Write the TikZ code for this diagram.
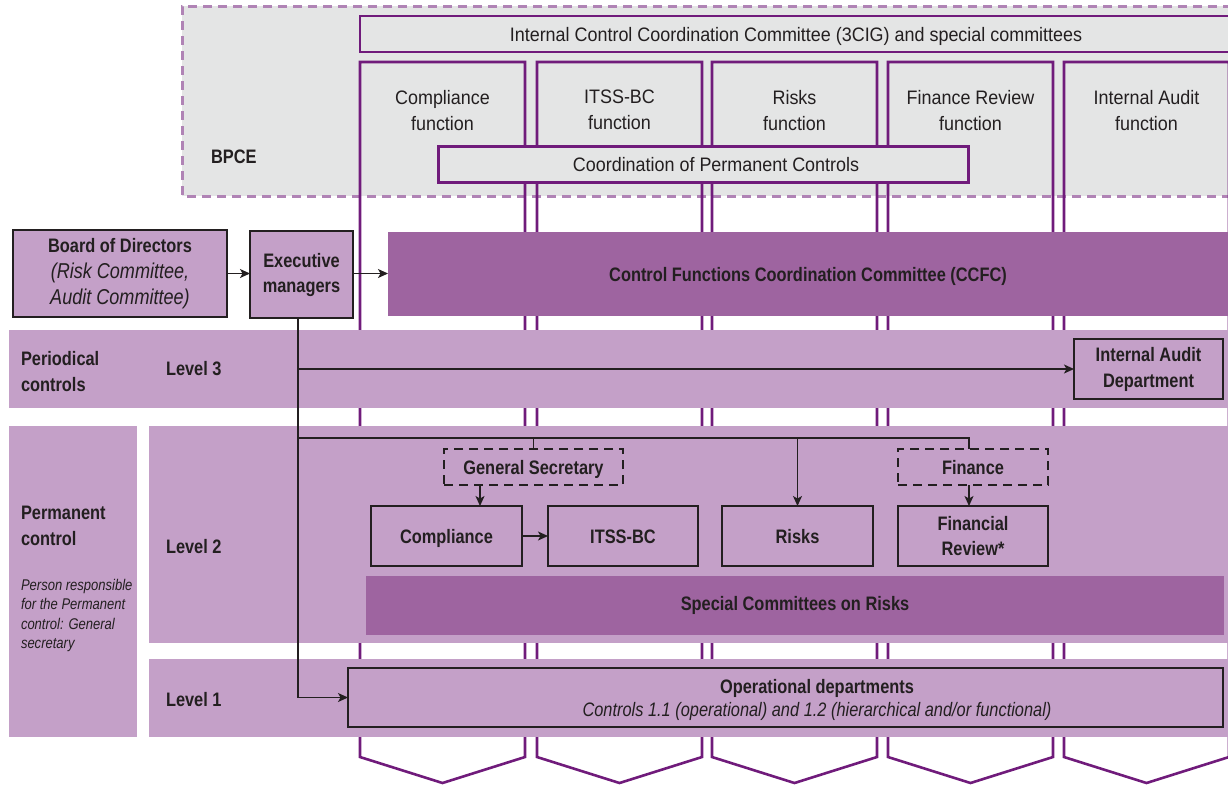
\documentclass[tikz,border=0pt]{standalone}
\usepackage{fontspec}
\setmainfont{Liberation Sans}[FakeStretch=0.92,
  BoldFeatures={FakeStretch=0.84},
  ItalicFeatures={FakeStretch=0.84},
  BoldItalicFeatures={FakeStretch=0.84}]
\usetikzlibrary{arrows.meta}
\definecolor{ink}{HTML}{231F20}
\definecolor{plum}{HTML}{701B7B}
\definecolor{lilac}{HTML}{C4A0C8}
\definecolor{mauve}{HTML}{9E64A0}
\definecolor{mist}{HTML}{E4E5E5}
\definecolor{dashplum}{HTML}{B083B5}
\begin{document}
\begin{tikzpicture}[x=1pt,y=-1pt,
  every node/.style={inner sep=0pt, outer sep=0pt, text=ink, align=center,
    font=\fontsize{19.5}{26}\selectfont},
  heavy/.style={font=\fontsize{19.5}{26}\selectfont\bfseries},
  oneline/.style={text height=14pt, text depth=0pt},
  column/.style={draw=plum, line width=2.6pt},
  plumbox/.style={draw=plum, fill=mist, line width=2.6pt},
  inkbox/.style={draw=ink, fill=lilac, line width=1.3pt},
  dashbox/.style={draw=ink, line width=1.2pt, dash pattern=on 9pt off 6pt},
  bar/.style={fill=mauve},
  link/.style={draw=ink, line width=1.3pt},
  arr/.style={link, -{Stealth[length=10pt,width=9pt,inset=2.5pt]}},
  note/.style={font=\fontsize{15.5}{19.5}\selectfont\itshape, align=left},
]
\useasboundingbox (0,0) rectangle (1228,785);

% BPCE area
\fill[mist] (182,6) rectangle (1232,196);
\draw[dashplum, line width=3pt, dash pattern=on 9pt off 6pt]
  (1232,6) -- (182,6) -- (182,196) -- (1232,196);

% function columns with chevron ends
\foreach \cx in {360,537,712,888,1064}
  \draw[column] (\cx,757) -- (\cx,62) -- (\cx+165,62) -- (\cx+165,757)
    -- (\cx+82.5,783) -- cycle;

\node[heavy, anchor=base west] (bpce) at (211,163) {BPCE};
\node[plumbox, oneline, minimum width=872pt, minimum height=36pt] (iccc) at (796,34)
  {Internal Control Coordination Committee (3CIG) and special committees};

\node[anchor=north] (fcomp)  at (442.5,90)  {Compliance\\function};
\node[anchor=north] (fitss)  at (619.5,90)  {ITSS-BC\\function};
\node[anchor=north] (frisk)  at (794.5,90)  {Risks\\function};
\node[anchor=north] (ffin)   at (970.5,90)  {Finance Review\\function};
\node[anchor=north] (faudit) at (1146.5,90) {Internal Audit\\function};

\node[plumbox, minimum width=530pt, minimum height=36pt,
  label={[xshift=12.5pt, oneline]center:Coordination of Permanent Controls}]
  (coord) at (703.5,164.5) {};

% governance row
\node[inkbox, minimum width=214pt, minimum height=87pt] (board) at (120,273.5)
  {\textbf{Board of Directors}\\
   \fontsize{21.5}{26}\selectfont\textit{(Risk Committee,}\\
   \fontsize{21.5}{26}\selectfont\textit{Audit Committee)}};
\node[inkbox, minimum width=103pt, minimum height=87pt,
  font=\fontsize{19.5}{25}\selectfont\bfseries] (exec) at (301.5,274.5)
  {Executive\\managers};
\node[bar, heavy, oneline, minimum width=840pt, minimum height=84pt] (ccfc) at (808,274)
  {Control Functions Coordination Committee (CCFC)};

% control level bands
\fill[lilac] (9,330) rectangle (1228,408);
\fill[lilac] (9,426) rectangle (137,737);
\fill[lilac] (149,426) rectangle (1228,643);
\fill[lilac] (149,659) rectangle (1228,737);

\node[heavy, anchor=north west, align=left] (periodical) at (21,351) {Periodical\\controls};
\node[heavy, anchor=north west, align=left] (permanent) at (21,506) {Permanent\\control};
\node[note, anchor=north west] (person) at (21,579)
  {Person responsible\\for the Permanent\\control: General\\secretary};
\node[heavy, anchor=base west] (lvl3) at (166,375) {Level 3};
\node[heavy, anchor=base west] (lvl2) at (166,553) {Level 2};
\node[heavy, anchor=base west] (lvl1) at (166,706) {Level 1};

\node[inkbox, heavy, minimum width=149pt, minimum height=60pt] (iad) at (1148.5,369)
  {Internal Audit\\Department};

\node[dashbox, heavy, oneline, minimum width=179pt, minimum height=36pt] (gensec) at (533.5,467)
  {General Secretary};
\node[dashbox, heavy, oneline, minimum width=150pt, minimum height=36pt] (finance) at (973,467)
  {Finance};
\node[inkbox, heavy, oneline, minimum width=151pt, minimum height=60pt] (compliance) at (446.5,536)
  {Compliance};
\node[inkbox, heavy, oneline, minimum width=150pt, minimum height=60pt] (itss) at (623,536)
  {ITSS-BC};
\node[inkbox, heavy, oneline, minimum width=151pt, minimum height=60pt] (risks) at (797.5,536)
  {Risks};
\node[inkbox, minimum width=150pt, minimum height=60pt,
  font=\fontsize{19.5}{25}\selectfont\bfseries] (finrev) at (973,536)
  {Financial\\Review*};
\node[bar, heavy, minimum width=858pt, minimum height=59pt] (special) at (795,605.5)
  {Special Committees on Risks};
\node[inkbox, minimum width=875pt, minimum height=59pt,
  label={[xshift=31.5pt, yshift=-2pt, font=\fontsize{19.5}{23}\selectfont]center:{\textbf{Operational departments}\\\textit{Controls 1.1 (operational) and 1.2 (hierarchical and/or functional)}}}]
  (opdept) at (785.5,697.5) {};

% connectors
\path (exec.south) ++(-3.5,0) coordinate (trunk);
\path (trunk) ++(0,120) coordinate (fork);
\coordinate (gx) at (480,0);
\coordinate (fx) at (969,0);

\draw[arr] (board) -- (board -| exec.west);
\draw[arr] (exec.east |- board) -- (board -| ccfc.west);
\draw[arr] (trunk) |- (opdept.west);
\draw[arr] (trunk |- iad.west) -- (iad.west);
\draw[link] (fork) -| (finance.north -| fx);
\draw[link] (fork -| gensec.north) -- (gensec.north);
\draw[arr] (fork -| risks.north) -- (risks.north);
\draw[arr] (gensec.south -| gx) -- (compliance.north -| gx);
\draw[arr] (finance.south -| fx) -- (finrev.north -| fx);
\draw[arr] (compliance) -- (itss);
\end{tikzpicture}
\end{document}
